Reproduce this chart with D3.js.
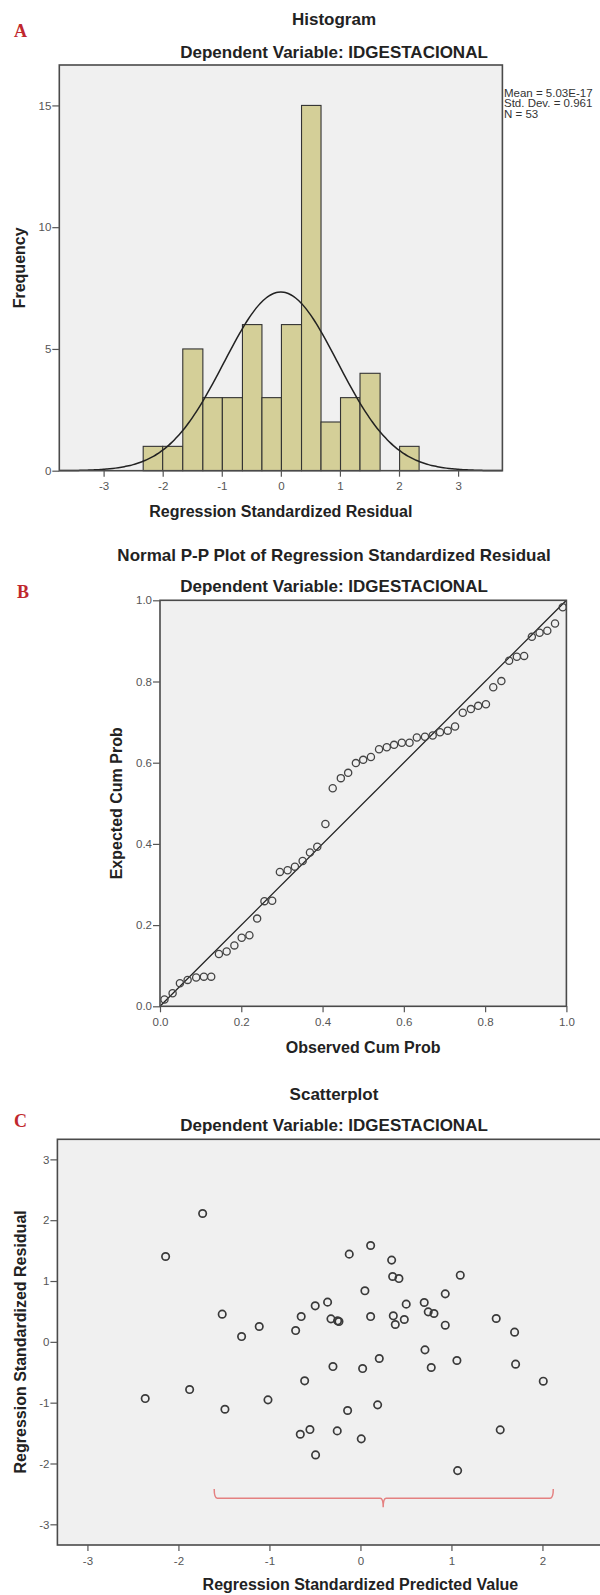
<!DOCTYPE html>
<html>
<head>
<meta charset="utf-8">
<script src="https://cdn.jsdelivr.net/npm/d3@7"></script>
<style>
body { margin: 0; background: #fff; }
text { font-family: "Liberation Sans", Arial, sans-serif; }
</style>
</head>
<body>
<svg id="chart" width="600" height="1595"></svg>
<script>
// ---- A: histogram of residuals
var binEdges = [-2.33, -2.00, -1.66, -1.32, -0.99, -0.65, -0.32, 0.01, 0.35, 0.68, 1.01, 1.34, 1.68, 2.01, 2.34];
var binCounts = [1, 1, 5, 3, 3, 6, 3, 6, 15, 2, 3, 4, 0, 1];
var histXTicks = [-3, -2, -1, 0, 1, 2, 3];
var histYTicks = [0, 5, 10, 15];
var residMean = 5.03e-17, residSd = 0.961, residN = 53;
var histStats = ["Mean = 5.03E-17", "Std. Dev. = 0.961", "N = 53"];

// ---- B: normal P-P plot
var ppObserved = [0.011, 0.031, 0.049, 0.068, 0.089, 0.108, 0.126, 0.145, 0.164, 0.183, 0.201, 0.220, 0.239, 0.257, 0.276,
    0.295, 0.314, 0.332, 0.351, 0.369, 0.387, 0.407, 0.425, 0.445, 0.463, 0.482, 0.500, 0.519, 0.539, 0.558, 0.576,
    0.595, 0.614, 0.632, 0.652, 0.671, 0.689, 0.708, 0.726, 0.745, 0.765, 0.783, 0.802, 0.820, 0.840, 0.859, 0.878,
    0.896, 0.915, 0.934, 0.953, 0.972, 0.991];
var ppExpected = [0.017, 0.032, 0.057, 0.065, 0.071, 0.073, 0.073, 0.129, 0.135, 0.150, 0.169, 0.175, 0.216, 0.259, 0.260,
    0.331, 0.335, 0.344, 0.358, 0.379, 0.393, 0.449, 0.537, 0.562, 0.575, 0.599, 0.607, 0.614, 0.633, 0.638, 0.644,
    0.649, 0.649, 0.662, 0.664, 0.667, 0.675, 0.679, 0.689, 0.723, 0.732, 0.740, 0.744, 0.786, 0.801, 0.851, 0.861,
    0.863, 0.910, 0.920, 0.925, 0.943, 0.983];
var ppTicks = [0, 0.2, 0.4, 0.6, 0.8, 1.0];

// ---- C: scatterplot predicted vs residual
var predicted = [-1.734, -2.141, -1.519, -1.306, -1.112, -0.712, -0.651, -0.497, -0.613, -2.365, -1.877, -1.489, -1.016,
    -0.661, -0.555, -0.493, -0.361, -0.324, -0.251, -0.236, -0.123, 0.112, 0.049, 0.112, 0.343, 0.354, 0.423, 0.503,
    0.361, 0.383, 0.482, 0.701, 0.745, 0.808, 0.932, 1.097, 0.932, 1.492, 1.694, 0.709, 0.207, -0.302, 0.024, 0.778,
    1.060, 1.705, 2.009, -0.141, 0.189, -0.255, 0.009, 1.536, 1.068];
var residual = [2.110, 1.403, 0.455, 0.087, 0.252, 0.186, 0.416, 0.592, -0.641, -0.932, -0.784, -1.108, -0.954,
    -1.519, -1.442, -1.859, 0.653, 0.378, 0.345, 0.334, 1.442, 1.584, 0.839, 0.416, 1.344, 1.074, 1.041, 0.620,
    0.428, 0.285, 0.367, 0.647, 0.493, 0.466, 0.789, 1.096, 0.274, 0.384, 0.159, -0.132, -0.274, -0.406, -0.439, -0.422,
    -0.307, -0.367, -0.647, -1.129, -1.036, -1.464, -1.595, -1.447, -2.117];
var scatterXTicks = [-3, -2, -1, 0, 1, 2];
var scatterYTicks = [-3, -2, -1, 0, 1, 2, 3];
// red brace annotation, data units
var brace = { x0: -1.607, x1: 2.119, xm: 0.25, yEnd: -2.42, yLine: -2.57, yTip: -2.72 };

var dvTitle = "Dependent Variable: IDGESTACIONAL";
var titleX = 334;
var svg = d3.select("#chart");

function styleAxis(g) {
    g.select(".domain").remove();
    g.selectAll(".tick line").attr("stroke", "#555").attr("stroke-width", 1.2);
    g.selectAll(".tick text").attr("fill", "#555").style("font-size", "11.5px")
        .style("font-family", "'Liberation Sans', Arial, sans-serif");
}

function title(txt, y) {
    svg.append("text").attr("x", titleX).attr("y", y).attr("text-anchor", "middle")
        .style("font-size", "17px").style("font-weight", "bold").attr("fill", "#222").text(txt);
}

function panelLetter(txt, x, y) {
    svg.append("text").attr("x", x).attr("y", y)
        .style("font-family", "'Liberation Serif', 'Times New Roman', serif")
        .style("font-size", "18px").style("font-weight", "bold").attr("fill", "#c0272d").text(txt);
}

function axisLabel(txt, x, y, rotate) {
    var t = svg.append("text").attr("text-anchor", "middle")
        .style("font-size", "16px").style("font-weight", "bold").attr("fill", "#222").text(txt);
    if (rotate) t.attr("transform", "translate(" + x + "," + y + ") rotate(-90)");
    else t.attr("x", x).attr("y", y);
}

function frame(x, y, w, h, layer) {
    if (layer === "bg") {
        svg.append("rect").attr("x", x).attr("y", y).attr("width", w).attr("height", h).attr("fill", "#f0f0f0");
    } else {
        svg.append("rect").attr("x", x).attr("y", y).attr("width", w).attr("height", h)
            .attr("fill", "none").attr("stroke", "#4a4a4a").attr("stroke-width", 1.6);
    }
}

// ================= A =================
var hx = d3.scaleLinear().domain([-3.75, 3.75]).range([59.3, 502.4]);
var hy = d3.scaleLinear().domain([0, 16.66]).range([470.7, 65]);

panelLetter("A", 14, 37);
title("Histogram", 25);
title(dvTitle, 58);
frame(59.3, 65, 502.4 - 59.3, 470.7 - 65, "bg");

svg.append("g").selectAll("rect").data(binCounts).enter().append("rect")
    .attr("x", function(d, i) { return hx(binEdges[i]); })
    .attr("width", function(d, i) { return hx(binEdges[i + 1]) - hx(binEdges[i]); })
    .attr("y", function(d) { return hy(d); })
    .attr("height", function(d) { return hy(0) - hy(d); })
    .attr("fill", "#d4cf98").attr("stroke", "#333").attr("stroke-width", 1.1)
    .style("display", function(d) { return d > 0 ? null : "none"; });

// normal curve scaled by N * bin width
var binW = (binEdges[binEdges.length - 1] - binEdges[0]) / binCounts.length;
var curveX = d3.range(-3.75, 3.7501, 0.05);
var normLine = d3.line()
    .x(function(d) { return hx(d); })
    .y(function(d) {
        var z = (d - residMean) / residSd;
        return hy(residN * binW * Math.exp(-0.5 * z * z) / (residSd * Math.sqrt(2 * Math.PI)));
    })
    .curve(d3.curveBasis);
svg.append("path").datum(curveX).attr("d", normLine)
    .attr("fill", "none").attr("stroke", "#222").attr("stroke-width", 1.5);

frame(59.3, 65, 502.4 - 59.3, 470.7 - 65, "fg");

svg.append("g").attr("transform", "translate(59.3,0)")
    .call(d3.axisLeft(hy).tickValues(histYTicks).tickSize(7).tickPadding(1).tickFormat(function(d) { return String(d); }))
    .call(styleAxis);
svg.append("g").attr("transform", "translate(0,470.7)")
    .call(d3.axisBottom(hx).tickValues(histXTicks).tickSize(6).tickPadding(5).tickFormat(function(d) { return String(d); }))
    .call(styleAxis);

svg.append("g").selectAll("text").data(histStats).enter().append("text")
    .attr("x", 504).attr("y", function(d, i) { return 97 + i * 10.3; })
    .style("font-size", "11.5px").attr("fill", "#333").text(function(d) { return d; });

axisLabel("Regression Standardized Residual", hx(0), 516.7, false);
axisLabel("Frequency", 25, hy(8.33), true);

// ================= B =================
var px = d3.scaleLinear().domain([0, 1]).range([160, 566.4]);
var py = d3.scaleLinear().domain([0, 1]).range([1006.3, 600.3]);

title("Normal P-P Plot of Regression Standardized Residual", 561);
title(dvTitle, 592);
panelLetter("B", 17, 598);
frame(160, 600.3, 406.4, 406, "bg");

svg.append("line").attr("x1", px(0)).attr("y1", py(0)).attr("x2", px(1)).attr("y2", py(1))
    .attr("stroke", "#222").attr("stroke-width", 1.3);

svg.append("g").selectAll("circle").data(ppObserved).enter().append("circle")
    .attr("cx", function(d) { return px(d); })
    .attr("cy", function(d, i) { return py(ppExpected[i]); })
    .attr("r", 3.6).attr("fill", "none").attr("stroke", "#444").attr("stroke-width", 1.3);

frame(160, 600.3, 406.4, 406, "fg");

svg.append("g").attr("transform", "translate(160,0)")
    .call(d3.axisLeft(py).tickValues(ppTicks).tickSize(7).tickPadding(1).tickFormat(d3.format(".1f")))
    .call(styleAxis);
svg.append("g").attr("transform", "translate(0,1006.3)")
    .call(d3.axisBottom(px).tickValues(ppTicks).tickSize(6).tickPadding(6).tickFormat(d3.format(".1f")))
    .call(styleAxis);

axisLabel("Observed Cum Prob", px(0.5), 1053, false);
axisLabel("Expected Cum Prob", 122, py(0.5), true);

// ================= C =================
var sx = d3.scaleLinear().domain([-3.33, 2.65]).range([57.4, 601.6]);
var sy = d3.scaleLinear().domain([-3.34, 3.33]).range([1545, 1139.3]);

title("Scatterplot", 1100);
title(dvTitle, 1131);
panelLetter("C", 14, 1127);
frame(57.4, 1139.3, 601.6 - 57.4, 1545 - 1139.3, "bg");

svg.append("g").selectAll("circle").data(predicted).enter().append("circle")
    .attr("cx", function(d) { return sx(d); })
    .attr("cy", function(d, i) { return sy(residual[i]); })
    .attr("r", 3.7).attr("fill", "none").attr("stroke", "#3a3a3a").attr("stroke-width", 1.7);

var bx0 = sx(brace.x0), bx1 = sx(brace.x1), bxm = sx(brace.xm);
var byE = sy(brace.yEnd), byL = sy(brace.yLine), byT = sy(brace.yTip);
var bracePath = d3.path();
bracePath.moveTo(bx0, byE);
bracePath.quadraticCurveTo(bx0, byL, bx0 + 3, byL);
bracePath.lineTo(bxm - 3, byL);
bracePath.quadraticCurveTo(bxm, byL, bxm, byT);
bracePath.quadraticCurveTo(bxm, byL, bxm + 3, byL);
bracePath.lineTo(bx1 - 3, byL);
bracePath.quadraticCurveTo(bx1, byL, bx1, byE);
svg.append("path").attr("d", bracePath.toString())
    .attr("fill", "none").attr("stroke", "#e48080").attr("stroke-width", 1.5);

frame(57.4, 1139.3, 601.6 - 57.4, 1545 - 1139.3, "fg");

svg.append("g").attr("transform", "translate(57.4,0)")
    .call(d3.axisLeft(sy).tickValues(scatterYTicks).tickSize(7).tickPadding(1).tickFormat(function(d) { return String(d); }))
    .call(styleAxis);
svg.append("g").attr("transform", "translate(0,1545)")
    .call(d3.axisBottom(sx).tickValues(scatterXTicks).tickSize(6).tickPadding(6).tickFormat(function(d) { return String(d); }))
    .call(styleAxis);

axisLabel("Regression Standardized Predicted Value", sx(0), 1590, false);
axisLabel("Regression Standardized Residual", 26, sy(0), true);
</script>
</body>
</html>
